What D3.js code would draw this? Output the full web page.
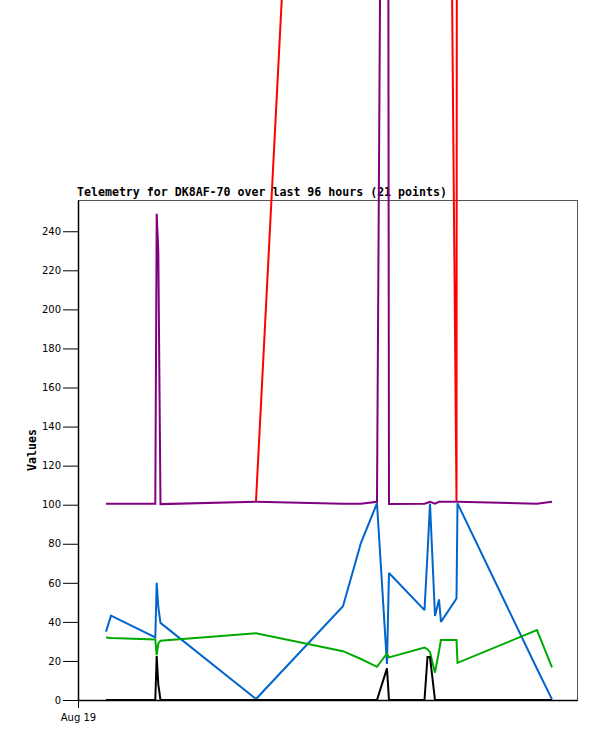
<!DOCTYPE html>
<html>
<head>
<meta charset="utf-8">
<script src="https://cdn.jsdelivr.net/npm/d3@7"></script>
<style>
  html, body { margin: 0; padding: 0; background: #fff; }
  svg { display: block; }
</style>
</head>
<body>
<svg id="chart" width="597" height="741"></svg>
<script>
// Hours since Aug 19 00:00 for each sample
const hours = [5.39, 6.35, 14.87, 15.14, 15.45, 15.87, 34.24, 50.98, 54.44, 57.52, 59.44, 59.83,
               66.66, 67.24, 67.72, 68.68, 69.45, 69.83, 72.82, 73.01, 88.30, 91.19];
const seriesRed    = [null, null, null, null, null, null, 101.5, 970, 1000, 1000, 1000, 1000,
                      1000, 1000, 1000, 1000, 1000, 1010, 101.5, 1000, 1000, 1000];
const seriesPurple = [100.5, 100.5, 100.5, 249, 230, 100.3, 101.5, 100.5, 100.5, 101.5, 950, 100.3,
                      100.5, 101, 101.5, 100.5, 101.5, 101.5, 101.5, 101.5, 100.5, 101.5];
const seriesBlue   = [35, 43.2, 32, 60, 47.5, 39.5, 0.5, 48, 80.5, 100.7, 18.5, 65,
                      46, 75, 100.5, 43, 51.5, 40, 52, 100.7, 16, 0.3];
const seriesGreen  = [32, 31.8, 31, 23, 29, 30.3, 34.2, 25, 21, 17, 23.8, 21.8,
                      26.8, 26, 24.5, 14, 25, 30.7, 30.7, 19, 35.8, 16.7];
const seriesBlack  = [0, 0, 0, 22.5, 8, 0, 0, 0, 0, 0, 16.2, 0,
                      0, 22, 22, 0, 0, 0, 0, 0, 0, 0];
const yTicks = [0, 20, 40, 60, 80, 100, 120, 140, 160, 180, 200, 220, 240];
const xTickLabels = ["Aug 19"];
const titleText = "Telemetry for DK8AF-70 over last 96 hours (21 points)";
const yLabel = "Values";

const margin = {left: 78, top: 200, right: 577, bottom: 700};
const svg = d3.select("#chart");

const x = d3.scaleLinear().domain([0, 96]).range([margin.left, margin.right]);
const y = d3.scaleLinear().domain([0, 256]).range([margin.bottom, margin.top]);

// frame
svg.append("rect")
  .attr("x", margin.left + 0.5).attr("y", margin.top + 0.5)
  .attr("width", margin.right - margin.left).attr("height", margin.bottom - margin.top)
  .attr("fill", "none").attr("stroke", "#555").attr("stroke-width", 1);

// y axis
const yAxis = d3.axisLeft(y).tickValues(yTicks).tickSize(15).tickSizeOuter(0).tickPadding(2).tickFormat(d3.format("d"));
const gy = svg.append("g").attr("transform", `translate(${margin.left},0)`).call(yAxis);
gy.select(".domain").attr("stroke", "#000").attr("stroke-width", 1.5);
gy.selectAll(".tick line").attr("stroke", "#000");
gy.selectAll(".tick text").attr("font-family", "DejaVu Sans").attr("font-size", "10px").attr("fill", "#000");

// x axis
const xAxis = d3.axisBottom(x).tickValues([0]).tickSize(8).tickSizeOuter(0).tickPadding(6).tickFormat((d, i) => xTickLabels[i]);
const gx = svg.append("g").attr("transform", `translate(0,${margin.bottom})`).call(xAxis);
gx.select(".domain").attr("stroke", "#000").attr("stroke-width", 1.5);
gx.selectAll(".tick line").attr("stroke", "#000");
gx.selectAll(".tick text").attr("font-family", "DejaVu Sans").attr("font-size", "10px").attr("fill", "#000");

// title
svg.append("text").attr("x", 77).attr("y", 196)
  .attr("font-family", "DejaVu Sans Mono").attr("font-weight", "bold").attr("font-size", "11.6px")
  .attr("fill", "#000").text(titleText);

// y label
svg.append("text").attr("transform", "translate(36,450) rotate(-90)")
  .attr("text-anchor", "middle")
  .attr("font-family", "DejaVu Sans Mono").attr("font-weight", "bold").attr("font-size", "11.6px")
  .attr("fill", "#000").text(yLabel);

const series = [
  {values: seriesRed, color: "#ff0000"},
  {values: seriesPurple, color: "#800080"},
  {values: seriesBlue, color: "#0066cc"},
  {values: seriesGreen, color: "#00aa00"},
  {values: seriesBlack, color: "#000000"}
];

const line = d3.line()
  .defined(d => d.v !== null)
  .x(d => x(d.h))
  .y(d => y(d.v));

series.forEach(s => {
  const pts = hours.map((h, i) => ({h, v: s.values[i]}));
  svg.append("path")
    .datum(pts)
    .attr("d", line)
    .attr("fill", "none")
    .attr("stroke", s.color)
    .attr("stroke-width", 2)
    .attr("stroke-linejoin", "miter")
    .attr("stroke-miterlimit", 2);
});
</script>
</body>
</html>
